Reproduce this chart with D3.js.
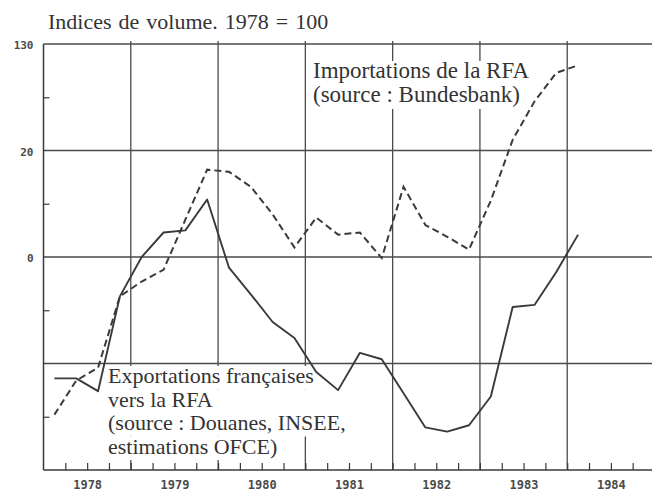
<!DOCTYPE html>
<html><head><meta charset="utf-8">
<script src="https://cdn.jsdelivr.net/npm/d3@7"></script>
<style>body{margin:0;background:#fff}svg{display:block}</style>
</head><body>
<svg id="c" width="652" height="492"></svg>
<script>
const quarters = ["1978-T1","1978-T2","1978-T3","1978-T4","1979-T1","1979-T2","1979-T3","1979-T4",
  "1980-T1","1980-T2","1980-T3","1980-T4","1981-T1","1981-T2","1981-T3","1981-T4",
  "1982-T1","1982-T2","1982-T3","1982-T4","1983-T1","1983-T2","1983-T3","1983-T4","1984-T1"];
const exportsFR = [98.6,98.6,97.4,106.3,110.0,112.3,112.5,115.4,
  109.0,106.5,103.9,102.4,99.2,97.5,101.0,100.4,
  97.2,94.0,93.6,94.2,96.9,105.3,105.5,108.6,112.1];
const importsRFA = [95.2,98.4,99.6,106.3,107.7,108.8,113.5,118.2,
  118.0,116.6,114.0,110.9,113.7,112.1,112.3,109.9,
  116.6,113.0,111.9,110.7,115.3,121.0,124.6,127.3,128.0];
const yearLabels = ["1978","1979","1980","1981","1982","1983","1984"];
const yLabelValues = [130,120,110];
const yLabelTexts = ["130","20","0"];
const titleText = "Indices de volume. 1978 = 100";
const importLabel = ["Importations de la RFA","(source : Bundesbank)"];
const exportLabel = ["Exportations françaises","vers la RFA","(source : Douanes, INSEE,","estimations OFCE)"];

const W = 652, H = 492;
const svg = d3.select("#c");
const x = d3.scaleLinear().domain([1978,1985]).range([43.5,654.5]);
const y = d3.scaleLinear().domain([90,130]).range([470,44]);
const ink = "#3a3a3a";
const tOf = q => { const [yr, t] = q.split("-T"); return +yr + (+t - 0.5)/4; };

// horizontal grid
svg.append("g").selectAll("line").data([130,120,110,100]).join("line")
  .attr("x1", x(1978)).attr("x2", W).attr("y1", d=>y(d)).attr("y2", d=>y(d))
  .attr("stroke", "#4a4a4a").attr("stroke-width", 1.3);
// vertical grid at year boundaries
svg.append("g").selectAll("line").data(d3.range(1979,1985)).join("line")
  .attr("x1", d=>x(d)).attr("x2", d=>x(d)).attr("y1", y(130)-3).attr("y2", y(90))
  .attr("stroke", "#4a4a4a").attr("stroke-width", 1.3);

// x axis with quarter ticks (pointing up)
const qTicks = d3.range(0, 28).map(i => 1978 + i/4).filter(v => v > 1978 && v < 1985);
const gx = svg.append("g").attr("transform", `translate(0,${y(90)})`)
  .call(d3.axisBottom(x).tickValues(qTicks).tickSizeInner(-7).tickSizeOuter(0).tickFormat(""));
gx.select(".domain").attr("d", `M${x(1978)},0H${W}`).attr("stroke", ink).attr("stroke-width", 1.5);
gx.selectAll(".tick line").attr("stroke", ink).attr("stroke-width", 1.2);

// year labels centred in each year
const gxl = svg.append("g").attr("transform", `translate(0,${y(90)})`)
  .call(d3.axisBottom(x).tickValues(yearLabels.map(s => +s + 0.5)).tickSize(0).tickPadding(10)
    .tickFormat((d,i) => yearLabels[i]));
gxl.select(".domain").remove();
gxl.selectAll("text").attr("font-family", "DejaVu Sans Mono").attr("font-weight", "bold")
  .attr("font-size", 12).attr("fill", "#4a4a4a");

// y axis: minor ticks pointing right
const gy = svg.append("g").attr("transform", `translate(${x(1978)},0)`)
  .call(d3.axisLeft(y).tickValues([125,115,105,95]).tickSizeInner(-6).tickSizeOuter(0).tickFormat(""));
gy.select(".domain").attr("d", `M0,${y(130)}V${y(90)}`).attr("stroke", ink).attr("stroke-width", 1.5);
gy.selectAll(".tick line").attr("stroke", ink).attr("stroke-width", 1.2);

const gyl = svg.append("g").attr("transform", `translate(${x(1978)},0)`)
  .call(d3.axisLeft(y).tickValues(yLabelValues).tickSize(0).tickPadding(10)
    .tickFormat((d,i) => yLabelTexts[i]));
gyl.select(".domain").remove();
gyl.selectAll("text").attr("font-family", "DejaVu Sans Mono").attr("font-weight", "bold")
  .attr("font-size", 11).attr("fill", "#4a4a4a").attr("dy", "0.45em");

// title
svg.append("text").attr("x", 48).attr("y", 29).text(titleText)
  .attr("font-family", "Liberation Serif").attr("font-size", 22).attr("word-spacing", 1.5)
  .attr("fill", "#333");

// labels with white boxes behind each line
function label(lines, x0, y0, lh, fs) {
  const g = svg.append("g");
  const rects = [], widths = [];
  lines.forEach((s, i) => {
    rects.push(g.append("rect").attr("fill", "#fff"));
    const t = g.append("text").attr("x", x0).attr("y", y0 + i*lh).text(s)
      .attr("font-family", "Liberation Serif").attr("font-size", fs).attr("fill", "#333");
    widths.push(t.node().getComputedTextLength());
  });
  rects.forEach((r, i) => {
    const w = Math.max(widths[i], i + 1 < widths.length ? widths[i+1] : 0);
    r.attr("x", x0 - 2).attr("y", y0 + i*lh - 17).attr("width", w + 4).attr("height", lh);
  });
}
label(importLabel, 313, 78, 24, 23);
label(exportLabel, 108, 383, 23.5, 22);

// data lines
const line = d3.line().x((d,i) => x(tOf(quarters[i]))).y(d => y(d));
svg.append("path").datum(importsRFA).attr("d", line).attr("fill", "none")
  .attr("stroke", ink).attr("stroke-width", 2).attr("stroke-dasharray", "7,4");
svg.append("path").datum(exportsFR).attr("d", line).attr("fill", "none")
  .attr("stroke", ink).attr("stroke-width", 1.9).attr("stroke-linejoin", "round");
</script>
</body></html>
